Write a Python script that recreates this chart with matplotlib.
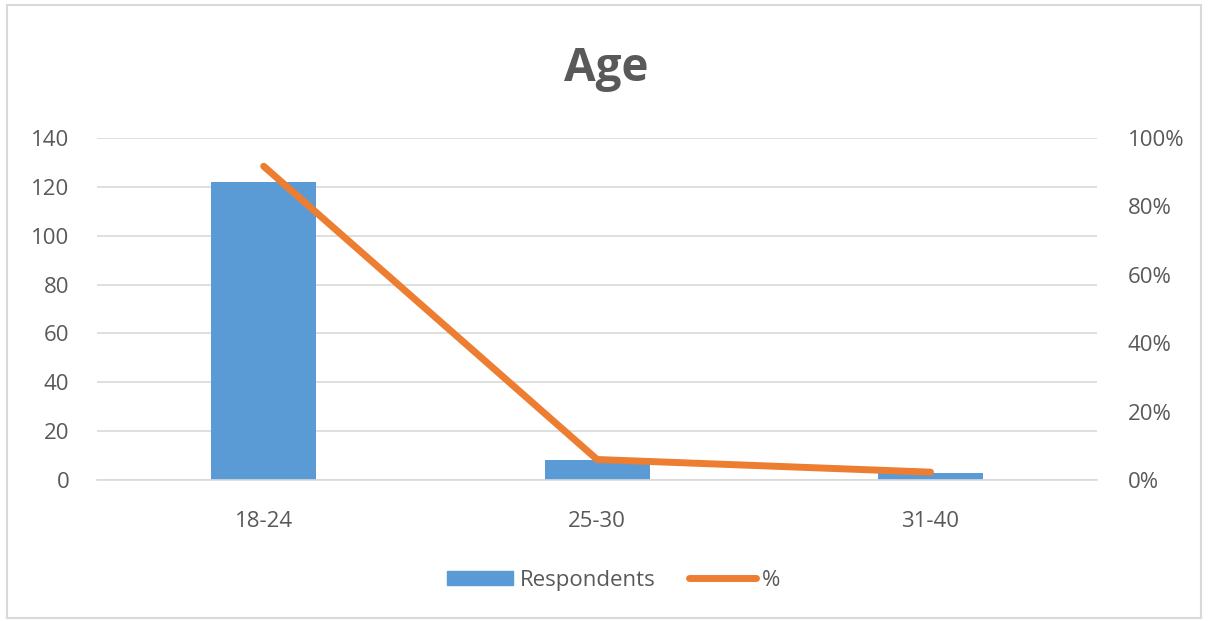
import matplotlib.pyplot as plt
from matplotlib.ticker import PercentFormatter
from matplotlib.patches import Rectangle
from matplotlib.lines import Line2D

categories = ["18-24", "25-30", "31-40"]
respondents = [122, 8, 3]
percent = [91.7, 6.0, 2.3]

text_col = "#595959"
bar_col = "#5B9BD5"
line_col = "#ED7D31"
grid_col = "#D9D9D9"
fs = 16

plt.rcParams['font.family'] = ['Open Sans', 'DejaVu Sans']

fig = plt.figure(figsize=(12.08, 6.21), dpi=100)
# outer chart border
fig.patches.append(Rectangle((0.006, 0.005), 0.988, 0.987, transform=fig.transFigure,
                             fill=False, edgecolor=grid_col, linewidth=1.5))

ax = fig.add_axes([0.0803, 0.227, 0.828, 0.551])
x = list(range(len(categories)))
ax.bar(x, respondents, width=0.315, color=bar_col, zorder=2, label="Respondents")
ax.set_xlim(-0.5, 2.5)
ax.set_ylim(0, 140)
ax.set_yticks(range(0, 141, 20))
ax.set_xticks(x)
ax.set_xticklabels(categories)
ax.grid(axis='y', color=grid_col, linewidth=1.2, zorder=0)
for s in ['top', 'left', 'right']:
    ax.spines[s].set_visible(False)
ax.spines['bottom'].set_color(grid_col)
ax.spines['bottom'].set_linewidth(1.2)
ax.tick_params(axis='both', length=0, colors=text_col, labelsize=fs)
ax.tick_params(axis='x', pad=22)
ax.tick_params(axis='y', pad=20)

ax2 = ax.twinx()
ax2.plot(x, percent, color=line_col, linewidth=5, solid_capstyle='round', zorder=3)
ax2.set_ylim(0, 100)
ax2.set_yticks(range(0, 101, 20))
ax2.yaxis.set_major_formatter(PercentFormatter(decimals=0))
for s in ['top', 'left', 'right', 'bottom']:
    ax2.spines[s].set_visible(False)
ax2.tick_params(axis='y', length=0, colors=text_col, labelsize=fs, pad=22)

fig.text(0.502, 0.89, "Age", ha='center', va='center', fontsize=33,
         fontweight='bold', color=text_col)

handles = [Rectangle((0, 0), 1, 1, color=bar_col),
           Line2D([0], [0], color=line_col, linewidth=5, solid_capstyle='round')]
fig.legend(handles, ["Respondents", "%"], loc='center', bbox_to_anchor=(0.508, 0.066),
           ncol=2, frameon=False, fontsize=fs, labelcolor=text_col,
           handlelength=3.0, handleheight=0.6, handletextpad=0.3, columnspacing=1.5)

fig.savefig("out.png", dpi=100)
